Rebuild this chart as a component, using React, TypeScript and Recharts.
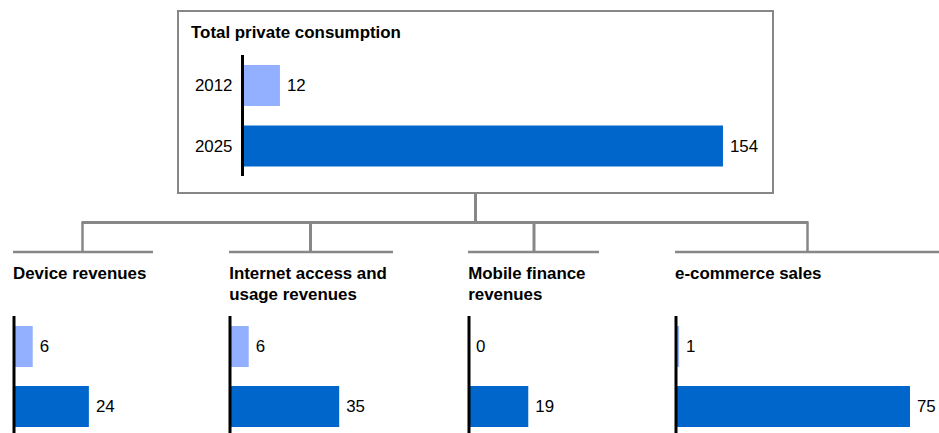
import React from 'react';
import { BarChart, Bar, XAxis, YAxis, LabelList, Cell } from 'recharts';

const years = ['2012', '2025'];
const totalTitle = 'Total private consumption';
const totalValues = [12, 154];
const segmentTitles = [
  ['Device revenues'],
  ['Internet access and', 'usage revenues'],
  ['Mobile finance', 'revenues'],
  ['e-commerce sales'],
];
const segment2012 = [6, 6, 0, 1];
const segment2025 = [24, 35, 19, 75];

const LIGHT = '#93AFFF';
const DARK = '#0066CC';
const GRAY = '#878787';
const PX = 3.12;
const FONT = '"Liberation Sans", Arial, Helvetica, sans-serif';
const FS = 16.9;

type MiniProps = {
  values: number[];
  left: number;
  top: number;
  axisWidth: number;
  plotHeight: number;
  showTicks: boolean;
  domainMax: number;
};

function MiniBars({ values, left, top, axisWidth, plotHeight, showTicks, domainMax }: MiniProps) {
  const data = years.map((y, i) => ({ year: y, value: values[i] }));
  const marginRight = 45;
  const width = axisWidth + domainMax * PX + marginRight;
  const height = plotHeight + 10;
  return (
    <div style={{ position: 'absolute', left, top }}>
      <BarChart
        layout="vertical"
        width={width}
        height={height}
        data={data}
        margin={{ top: 5, right: marginRight, bottom: 5, left: 0 }}
        barSize={41}
      >
        <XAxis type="number" domain={[0, domainMax]} hide />
        <YAxis
          type="category"
          dataKey="year"
          width={axisWidth}
          axisLine={{ stroke: '#000', strokeWidth: 3 }}
          tickLine={false}
          tickSize={0}
          tickMargin={10}
          tick={showTicks ? { fill: '#000', fontSize: FS, fontFamily: FONT } : false}
        />
        <Bar dataKey="value" isAnimationActive={false} minPointSize={0.01}>
          {data.map((d, i) => (
            <Cell key={d.year} fill={i === 0 ? LIGHT : DARK} />
          ))}
          <LabelList dataKey="value" position="right" offset={7} fill="#000" fontSize={FS} fontFamily={FONT} />
        </Bar>
      </BarChart>
    </div>
  );
}

const smallAxisX = [13.5, 229.7, 468.7, 675.5];

export default function App() {
  return (
    <div style={{ position: 'relative', width: 939, height: 433, overflow: 'hidden', background: '#fff', fontFamily: FONT }}>
      <style>{`html,body{margin:0;padding:0;overflow:hidden;background:#fff}`}</style>
      {/* top box */}
      <div
        style={{
          position: 'absolute',
          left: 177,
          top: 9.5,
          width: 597,
          height: 184,
          border: `2px solid ${GRAY}`,
          boxSizing: 'border-box',
        }}
      />
      <div style={{ position: 'absolute', left: 191, top: 22, fontWeight: 'bold', fontSize: FS, lineHeight: '21px', color: '#000', whiteSpace: 'nowrap' }}>
        {totalTitle}
      </div>
      <MiniBars values={totalValues} left={242 - 62.5} top={50} axisWidth={62.5} plotHeight={121} showTicks domainMax={170} />

      {/* tree connectors */}
      <svg width={939} height={433} style={{ position: 'absolute', left: 0, top: 0 }}>
        <g stroke={GRAY} fill="none">
          <line x1={475.5} y1={193} x2={475.5} y2={222.5} strokeWidth={3} />
          <line x1={81.5} y1={222.5} x2={808.5} y2={222.5} strokeWidth={3} />
          <line x1={82.5} y1={222.5} x2={82.5} y2={252} strokeWidth={2.5} />
          <line x1={310.5} y1={222.5} x2={310.5} y2={252} strokeWidth={3} />
          <line x1={534} y1={222.5} x2={534} y2={252} strokeWidth={3} />
          <line x1={807.5} y1={222.5} x2={807.5} y2={252} strokeWidth={2.5} />
          <line x1={13} y1={252} x2={153} y2={252} strokeWidth={2.5} />
          <line x1={229} y1={252} x2={393} y2={252} strokeWidth={2.5} />
          <line x1={468} y1={252} x2={599} y2={252} strokeWidth={2.5} />
          <line x1={675} y1={252} x2={939} y2={252} strokeWidth={2.5} />
        </g>
      </svg>

      {segmentTitles.map((lines, i) => (
        <div
          key={i}
          style={{ position: 'absolute', left: smallAxisX[i] - 0.5, top: 262.5, fontWeight: 'bold', fontSize: FS, lineHeight: '21px', color: '#000', whiteSpace: 'nowrap' }}
        >
          {lines.map((l) => (
            <div key={l}>{l}</div>
          ))}
        </div>
      ))}
      {segment2012.map((v, i) => (
        <MiniBars
          key={i}
          values={[v, segment2025[i]]}
          left={smallAxisX[i] - 5}
          top={310.7}
          axisWidth={5}
          plotHeight={120}
          showTicks={false}
          domainMax={Math.ceil(segment2025[i] / 10) * 10}
        />
      ))}
    </div>
  );
}
